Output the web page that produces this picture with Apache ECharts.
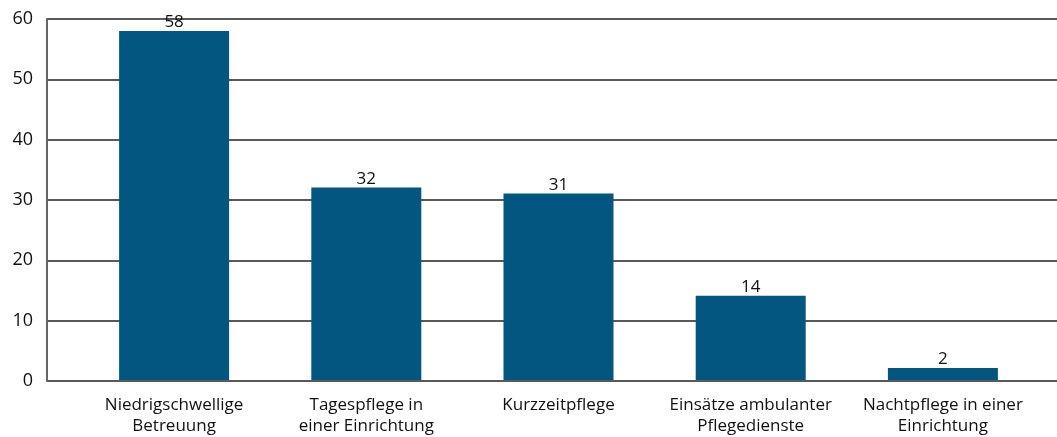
<!DOCTYPE html>
<html>
<head>
<meta charset="utf-8">
<script src="https://cdn.jsdelivr.net/npm/echarts@6/dist/echarts.min.js"></script>
<style>
html,body{margin:0;padding:0;background:#fff;}
#chart{width:1057px;height:437px;}
</style>
</head>
<body>
<div id="chart"></div>
<script>
var categories=['Niedrigschwellige\nBetreuung','Tagespflege in\neiner Einrichtung','Kurzzeitpflege','Einsätze ambulanter\nPflegedienste','Nachtpflege in einer\nEinrichtung'];
var values=[58,32,31,14,2];
var yTicks=[0,10,20,30,40,50,60];

var chart=echarts.init(document.getElementById('chart'));
var font='"Open Sans", "Noto Sans", sans-serif';
var option={
	animation:false,
	grid:[
		{left:47,right:0,top:19,bottom:56},
		{left:78,right:18,top:19,bottom:56}
	],
	xAxis:[
		{type:'category',gridIndex:0,data:[''],show:false},
		{
			type:'category',gridIndex:1,data:categories,
			axisLine:{show:false},axisTick:{show:false},
			axisLabel:{color:'#111',fontSize:17,fontFamily:font,lineHeight:21,margin:15,interval:0}
		}
	],
	yAxis:[
		{
			type:'value',gridIndex:0,min:yTicks[0],max:yTicks[yTicks.length-1],interval:10,
			axisLine:{show:true,lineStyle:{color:'#666',width:2}},
			axisTick:{show:false},
			splitLine:{lineStyle:{color:'#222',width:1.5}},
			axisLabel:{color:'#111',fontSize:18,fontFamily:font,margin:14}
		},
		{type:'value',gridIndex:1,min:0,max:60,show:false,splitLine:{show:false}}
	],
	series:[{
		type:'bar',xAxisIndex:1,yAxisIndex:1,
		data:values,barWidth:110,
		itemStyle:{color:'#03567f'},
		label:{show:true,position:'top',distance:0,color:'#111',fontSize:17,fontFamily:font}
	}]
};
chart.setOption(option);
</script>
</body>
</html>
